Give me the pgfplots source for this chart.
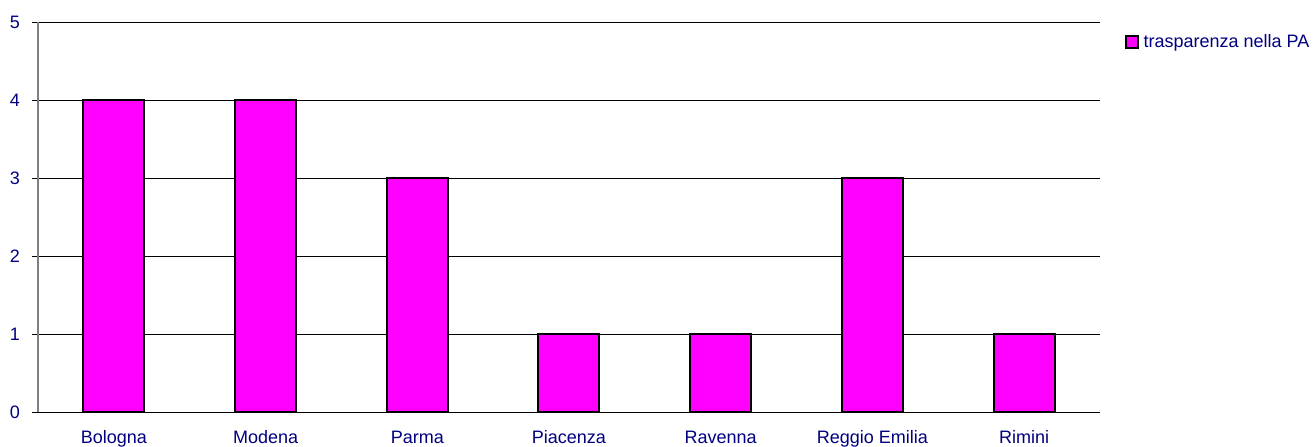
\documentclass[border=0pt]{standalone}
\usepackage{pgfplots}
\pgfplotsset{compat=1.18}
\usepackage{fontspec}
\setmainfont{Liberation Sans}
\definecolor{txtnavy}{RGB}{0,0,128}
\definecolor{barmag}{RGB}{255,0,255}
\begin{document}
\fontsize{18}{21}\selectfont
\begin{tikzpicture}
\useasboundingbox (0,0) rectangle (1315pt,-447pt);
\begin{axis}[
    at={(38pt,-412pt)}, anchor=south west,
    scale only axis,
    width=1062pt, height=390pt,
    ymin=0, ymax=5, ytick={0,1,...,5},
    xmin=-0.5, xmax=6.5,
    xtick={0,...,6},
    xticklabels={Bologna,Modena,Parma,Piacenza,Ravenna,Reggio Emilia,Rimini},
    minor xtick={-0.5,0.5,...,6.5},
    axis x line*=bottom, axis y line*=left,
    x axis line style={black, line width=1pt, -},
    y axis line style={gray, line width=1.5pt, -},
    tick align=outside,
    major tick length=6pt, minor tick length=7pt,
    xtick style={draw=none},
    minor x tick style={black, line width=1pt},
    ytick style={black, line width=1pt},
    ymajorgrids, grid style={black, line width=1pt},
    tick label style={font=\fontsize{18}{21}\selectfont, text=txtnavy},
    yticklabel style={xshift=-6pt},
    xticklabel style={anchor=base, text height=13pt, text depth=4pt, yshift=-25pt},
    /pgf/number format/assume math mode=true,
    ybar, bar width=61pt,
    legend style={at={(1.0235,0.9487)}, anchor=west, draw=none, fill=none,
        font=\fontsize{18}{21}\selectfont, text=txtnavy, inner sep=0pt},
    legend image code/.code={\draw[fill=barmag, draw=black, line width=1.5pt] (0pt,-6pt) rectangle (12pt,6pt);},
]
\addplot[fill=barmag, draw=black, line width=2pt] coordinates {
    (0,4) (1,4) (2,3) (3,1) (4,1) (5,3) (6,1)
};
\addlegendentry{\hspace{3pt}trasparenza nella PA}
\end{axis}
\end{tikzpicture}
\end{document}
